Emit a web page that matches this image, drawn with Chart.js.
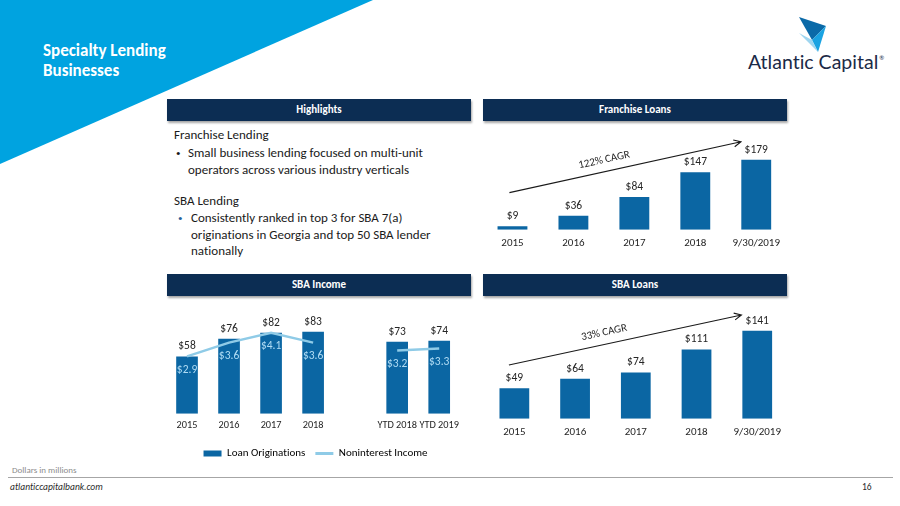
<!DOCTYPE html>
<html><head><meta charset="utf-8">
<script src="https://cdn.jsdelivr.net/npm/chart.js@4.4.1/dist/chart.umd.min.js"></script>
<style>
html,body{margin:0;padding:0;width:900px;height:506px;overflow:hidden;background:#fff;font-family:Carlito,Lato,sans-serif;font-variant-ligatures:none;}
.abs{position:absolute;white-space:nowrap;}
.hdr{position:absolute;height:22px;background:#0c2d53;color:#fff;font-weight:bold;font-size:11px;text-align:center;line-height:22px;box-shadow:1px 2px 2px rgba(0,0,0,0.35);}
.body{font-size:13px;color:#1a1a1a;}
.bul{font-size:9px;}
canvas{position:absolute;}
</style></head>
<body>
<svg class="abs" style="left:0;top:0" width="900" height="506">
  <polygon points="0,0 373,0 0,164" fill="#00a3e0"/>
  <polygon points="799,17 826,26 812,40" fill="#0b6aa8"/>
  <polygon points="812,40 826,26 818,52" fill="#1aa3e2"/>
  <polygon points="799,33 812,40 818,52" fill="#9fd6f0"/>
  <line x1="8" y1="477.5" x2="893" y2="477.5" stroke="#a6a6a6" stroke-width="1"/>
</svg>
<div class="abs" style="left:43px;top:41px;color:#fff;font-weight:bold;font-size:17px;line-height:20px;">Specialty Lending<br>Businesses</div>
<div class="abs" style="left:748px;top:50px;color:#1b2a47;font-size:19.5px;line-height:24px;font-family:Lato,sans-serif;">Atlantic Capital<span style="font-size:6px;position:relative;top:-9px;left:1px;">®</span></div>

<div class="hdr" style="left:167px;top:99px;width:304px;">Highlights</div>
<div class="hdr" style="left:483px;top:99px;width:304px;">Franchise Loans</div>
<div class="hdr" style="left:167px;top:274px;width:304px;">SBA Income</div>
<div class="hdr" style="left:483px;top:274px;width:304px;">SBA Loans</div>

<div class="abs body" style="left:174px;top:127px;line-height:16.5px;">Franchise Lending</div>
<div class="abs body bul" style="left:176px;top:145px;line-height:16.5px;">•</div>
<div class="abs body" style="left:188px;top:145px;line-height:16.5px;">Small business lending focused on multi-unit<br>operators across various industry verticals</div>
<div class="abs body" style="left:174px;top:193px;line-height:16.5px;">SBA Lending</div>
<div class="abs body bul" style="left:178px;top:210px;line-height:16.5px;color:#2a5f9a;">•</div>
<div class="abs body" style="left:191px;top:210px;line-height:16.5px;">Consistently ranked in top 3 for SBA 7(a)<br>originations in Georgia and top 50 SBA lender<br>nationally</div>

<canvas id="cFr" width="305" height="137" style="left:482px;top:120px;"></canvas>
<canvas id="cSbaL" width="304" height="148" style="left:484px;top:298px;"></canvas>
<canvas id="cInc" width="299" height="171" style="left:166px;top:298px;"></canvas>

<div class="abs" style="left:12px;top:464px;font-size:9px;color:#8c8c8c;">Dollars in millions</div>
<div class="abs" style="left:10px;top:481px;font-size:9.5px;color:#2a2a2a;font-style:italic;">atlanticcapitalbank.com</div>
<div class="abs" style="left:862px;top:481px;font-size:9.5px;color:#2a2a2a;">16</div>

<script>
// ---- data ----
const franchiseYears = ['2015', '2016', '2017', '2018', '9/30/2019'];
const franchiseLoans = [9, 36, 84, 147, 179];
const sbaLoanYears = ['2015', '2016', '2017', '2018', '9/30/2019'];
const sbaLoans = [49, 64, 74, 111, 141];
const sbaIncomePeriods = ['2015', '2016', '2017', '2018', '', 'YTD 2018', 'YTD 2019'];
const loanOriginations = [58, 76, 82, 83, null, 73, 74];
const noninterestIncome = [2.9, 3.6, 4.1, 3.6, null, 3.2, 3.3];
const franchiseCagrText = '122% CAGR';
const sbaCagrText = '33% CAGR';

const FONT = 'Carlito, Lato, sans-serif';
const BAR = '#0b66a3';
const LINE = '#8fcbe7';
Chart.defaults.font.family = FONT;
Chart.defaults.font.size = 11;
Chart.defaults.color = '#262626';

const valueLabels = {
  id: 'valueLabels',
  afterDatasetsDraw(chart) {
    const ctx = chart.ctx;
    chart.data.datasets.forEach((ds, di) => {
      const meta = chart.getDatasetMeta(di);
      meta.data.forEach((el, i) => {
        const v = ds.data[i];
        if (v == null) return;
        ctx.save();
        ctx.textAlign = 'center';
        ctx.textBaseline = 'middle';
        if (meta.type === 'bar') {
          ctx.font = '11.5px ' + FONT;
          ctx.fillStyle = '#262626';
          ctx.fillText('$' + v, el.x, el.y - 10);
        } else {
          ctx.font = '11.5px ' + FONT;
          ctx.fillStyle = '#b0dcf4';
          ctx.fillText('$' + v.toFixed(1), el.x, el.y + 13.5);
        }
        ctx.restore();
      });
    });
  }
};

const cagrArrow = {
  id: 'cagrArrow',
  afterDatasetsDraw(chart, args, o) {
    if (!o || !o.text) return;
    const xs = chart.scales.x, ys = chart.scales.y, ctx = chart.ctx;
    const x0 = xs.getPixelForValue(o.from[0]), y0 = ys.getPixelForValue(o.from[1]);
    const x1 = xs.getPixelForValue(o.to[0]), y1 = ys.getPixelForValue(o.to[1]);
    const ang = Math.atan2(y1 - y0, x1 - x0);
    ctx.save();
    ctx.strokeStyle = '#1a1a1a';
    ctx.lineWidth = 1.1;
    ctx.beginPath();
    ctx.moveTo(x0, y0); ctx.lineTo(x1, y1);
    const L = 8, a = 0.45;
    ctx.moveTo(x1 - L * Math.cos(ang - a), y1 - L * Math.sin(ang - a));
    ctx.lineTo(x1, y1);
    ctx.lineTo(x1 - L * Math.cos(ang + a), y1 - L * Math.sin(ang + a));
    ctx.stroke();
    const t = 0.42;
    ctx.translate(x0 + (x1 - x0) * t, y0 + (y1 - y0) * t);
    ctx.rotate(ang);
    ctx.fillStyle = '#262626';
    ctx.font = '11px ' + FONT;
    ctx.textAlign = 'center';
    ctx.textBaseline = 'middle';
    ctx.fillText(o.text, 0, -11.5);
    ctx.restore();
  }
};

function xAxis(pad, size) {
  return {
    grid: { display: false, drawTicks: false },
    border: { display: false },
    ticks: { padding: pad, color: '#262626', font: { size: size }, autoSkip: false, maxRotation: 0 }
  };
}

function barChart(id, labels, data, yMax, padTop, cagr) {
  return new Chart(document.getElementById(id), {
    type: 'bar',
    data: { labels, datasets: [{ data, backgroundColor: BAR, barPercentage: 0.49, categoryPercentage: 1 }] },
    options: {
      responsive: false, animation: false,
      layout: { padding: { top: padTop, left: 0, right: 0, bottom: 0 } },
      plugins: { legend: { display: false }, tooltip: { enabled: false }, cagrArrow: cagr },
      scales: { x: xAxis(7, 11), y: { display: false, min: 0, max: yMax } }
    },
    plugins: [valueLabels, cagrArrow]
  });
}

barChart('cFr', franchiseYears, franchiseLoans, 204, 30,
  { from: [-0.05, 95], to: [3.75, 225], text: franchiseCagrText });
barChart('cSbaL', sbaLoanYears, sbaLoans, 174, 12,
  { from: [-0.09, 86], to: [3.74, 166], text: sbaCagrText });

new Chart(document.getElementById('cInc'), {
  type: 'bar',
  data: {
    labels: sbaIncomePeriods,
    datasets: [
      { type: 'line', label: 'Noninterest Income', data: noninterestIncome, yAxisID: 'y2',
        borderColor: LINE, backgroundColor: LINE, borderWidth: 2.5, pointRadius: 0, spanGaps: false, order: 0 },
      { type: 'bar', label: 'Loan Originations', data: loanOriginations, yAxisID: 'y',
        backgroundColor: BAR, barPercentage: 0.515, categoryPercentage: 1, order: 1 }
    ]
  },
  options: {
    responsive: false, animation: false,
    layout: { padding: { top: 18, left: 0, right: 0, bottom: 0 } },
    plugins: {
      tooltip: { enabled: false },
      legend: {
        display: true, position: 'bottom',
        labels: {
          usePointStyle: true, pointStyleWidth: 18, boxHeight: 6, padding: 10,
          color: '#262626', font: { size: 11 },
          generateLabels: () => [
            { text: 'Loan Originations', fillStyle: BAR, strokeStyle: BAR, lineWidth: 0, pointStyle: 'rect', datasetIndex: 1, hidden: false },
            { text: 'Noninterest Income', fillStyle: LINE, strokeStyle: LINE, lineWidth: 3, pointStyle: 'line', datasetIndex: 0, hidden: false }
          ]
        }
      }
    },
    scales: {
      x: xAxis(6, 10.3),
      y: { display: false, min: 0, max: 99 },
      y2: { display: false, min: 0, max: 4.95, position: 'right' }
    }
  },
  plugins: [valueLabels]
});
</script>
</body></html>
